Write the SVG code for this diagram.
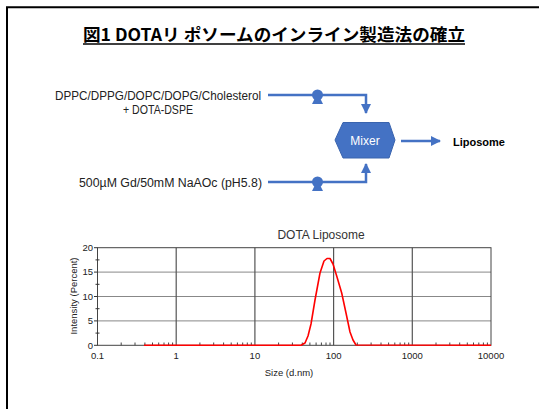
<svg xmlns="http://www.w3.org/2000/svg" width="539" height="409" viewBox="0 0 539 409">
<style>
.flow{fill:none;stroke:#4472C4;stroke-width:2.5}
.lbl{font-family:"Liberation Sans",Arial,sans-serif;font-size:12.5px;fill:#222}
.ax{font-family:"Liberation Sans",Arial,sans-serif;font-size:9.5px;fill:#222}
.vg{stroke:#555;stroke-width:1.2}
.hg{stroke:#888;stroke-width:1}
</style>
<defs>
<marker id="ah" viewBox="0 0 10 10" refX="9" refY="5" markerWidth="4" markerHeight="4" orient="auto" markerUnits="strokeWidth">
<path d="M0,0 L10,5 L0,10 Z" fill="#4472C4"/>
</marker>
</defs>
<rect width="539" height="409" fill="#fff"/>
<path d="M7,409 V7.3 H539" fill="none" stroke="#000" stroke-width="2"/>
<g id="title">
<text x="83" y="41" font-family="'Noto Sans CJK JP',sans-serif" font-weight="bold" font-size="17" textLength="382" lengthAdjust="spacingAndGlyphs" fill="#000">図1 DOTAリ ポソームのインライン製造法の確立</text>
<line x1="83" y1="44" x2="465" y2="44" stroke="#000" stroke-width="1.5"/>
</g>
<g id="connectors">
<path class="flow" d="M268,95 H366 V113" marker-end="url(#ah)"/>
<path class="flow" d="M268,182 H366 V164" marker-end="url(#ah)"/>
<path class="flow" d="M401,141 H440" marker-end="url(#ah)"/>
</g>
<g id="pump1" fill="#4472C4">
<circle cx="317.5" cy="95" r="5.5"/>
<path d="M312,104 L323,104 L319.5,97 L315.5,97 Z"/>
</g>
<g id="pump2" fill="#4472C4">
<circle cx="317.5" cy="182" r="5.5"/>
<path d="M312,191 L323,191 L319.5,184 L315.5,184 Z"/>
</g>
<g id="input1">
<text class="lbl" x="158" y="100" text-anchor="middle" textLength="206" lengthAdjust="spacingAndGlyphs">DPPC/DPPG/DOPC/DOPG/Cholesterol</text>
<text class="lbl" x="158" y="113.5" text-anchor="middle" textLength="70" lengthAdjust="spacingAndGlyphs">+ DOTA-DSPE</text>
</g>
<g id="input2">
<text class="lbl" x="170.5" y="187" text-anchor="middle" textLength="183" lengthAdjust="spacingAndGlyphs">500µM Gd/50mM NaAOc (pH5.8)</text>
</g>
<g id="mixer">
<polygon points="335,140 343,122.5 389,122.5 395,140 389,158 343,158" fill="#4472C4" stroke="#3A64AE" stroke-width="1"/>
<text x="365" y="144.5" text-anchor="middle" font-family="'Liberation Sans',Arial,sans-serif" font-size="12" fill="#fff">Mixer</text>
</g>
<g id="liposome">
<text x="453" y="146" font-family="'Liberation Sans',Arial,sans-serif" font-size="11" font-weight="bold" fill="#000">Liposome</text>
</g>
<g id="chart">
<text x="321" y="238.5" text-anchor="middle" font-family="'Liberation Sans',Arial,sans-serif" font-size="12" fill="#333">DOTA Liposome</text>
<g>
<line class="hg" x1="97.5" y1="320.9" x2="491" y2="320.9"/>
<line class="hg" x1="97.5" y1="296.5" x2="491" y2="296.5"/>
<line class="hg" x1="97.5" y1="272.1" x2="491" y2="272.1"/>
<line class="vg" x1="176.2" y1="247.7" x2="176.2" y2="345.3"/>
<line class="vg" x1="254.9" y1="247.7" x2="254.9" y2="345.3"/>
<line class="vg" x1="333.6" y1="247.7" x2="333.6" y2="345.3"/>
<line class="vg" x1="412.3" y1="247.7" x2="412.3" y2="345.3"/>
</g>
<rect x="97.5" y="247.7" width="393.5" height="97.6" fill="none" stroke="#444" stroke-width="1"/>
<path d="M94,345.3 H97.5 M94,320.9 H97.5 M94,296.5 H97.5 M94,272.1 H97.5 M94,247.7 H97.5 M95.5,333.1 H99.5 M95.5,308.7 H99.5 M95.5,284.3 H99.5 M95.5,259.9 H99.5" stroke="#333" stroke-width="1"/>
<path d="M121.2,345.3V342.5M135,345.3V342.5M144.9,345.3V342.5M152.5,345.3V342.5M158.7,345.3V342.5M164,345.3V342.5M168.6,345.3V342.5M172.6,345.3V342.5M199.9,345.3V342.5M213.7,345.3V342.5M223.6,345.3V342.5M231.2,345.3V342.5M237.4,345.3V342.5M242.7,345.3V342.5M247.3,345.3V342.5M251.3,345.3V342.5M278.6,345.3V342.5M292.4,345.3V342.5M302.3,345.3V342.5M309.9,345.3V342.5M316.1,345.3V342.5M321.4,345.3V342.5M326,345.3V342.5M330,345.3V342.5M357.3,345.3V342.5M371.1,345.3V342.5M381,345.3V342.5M388.6,345.3V342.5M394.8,345.3V342.5M400.1,345.3V342.5M404.7,345.3V342.5M408.7,345.3V342.5M436,345.3V342.5M449.8,345.3V342.5M459.7,345.3V342.5M467.3,345.3V342.5M473.5,345.3V342.5M478.8,345.3V342.5M483.4,345.3V342.5M487.4,345.3V342.5" stroke="#444" stroke-width="1"/>
<path d="M144,345.3 L301,345.3 L305,343 L308,336 L311,324 L315,300 L320,273 L324,261 L327,258.5 L330,258.5 L333,264 L337,277 L341.7,293 L346,313 L350,332 L353,340 L356,345 L491,345.3" fill="none" stroke="#FF0000" stroke-width="1.6" stroke-linejoin="round"/>
<g class="ax" text-anchor="end">
<text x="93" y="348.5">0</text>
<text x="93" y="324">5</text>
<text x="93" y="299.7">10</text>
<text x="93" y="275.3">15</text>
<text x="93" y="251">20</text>
</g>
<g class="ax" text-anchor="middle">
<text x="97.5" y="359">0.1</text>
<text x="176.2" y="359">1</text>
<text x="254.9" y="359">10</text>
<text x="333.6" y="359">100</text>
<text x="412.3" y="359">1000</text>
<text x="491" y="359">10000</text>
<text x="289" y="376">Size (d.nm)</text>
<text transform="translate(77,296) rotate(-90)">Intensity (Percent)</text>
</g>
</g>
</svg>
